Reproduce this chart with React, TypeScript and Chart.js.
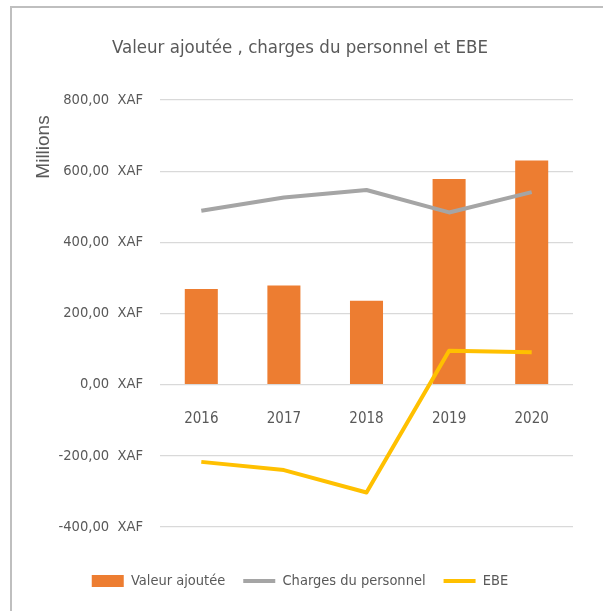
import React, { useEffect, useRef } from "react";
import { Chart, registerables } from "chart.js";

Chart.register(...registerables);

const categories = ["2016", "2017", "2018", "2019", "2020"];
const valeurAjoutee = [269, 279, 236, 578, 630];
const chargesPersonnel = [489, 526, 547, 484, 541];
const ebe = [-217, -240, -303, 95, 91];
const seriesNames = ["Valeur ajoutée", "Charges du personnel", "EBE"];
const seriesColors = ["#ED7D31", "#A5A5A5", "#FFC000"];
const yMin = -400;
const yMax = 800;
const yStep = 200;
const titleText = "Valeur ajoutée , charges du personnel et EBE";
const unitLabel = "Millions";
const currency = "XAF";

const NARROW = "'Liberation Sans Narrow', 'DejaVu Sans Condensed', 'Roboto Condensed', sans-serif";
const TEXT = "#595959";

const unitPlugin = {
  id: "unitLabel",
  afterDraw(chart: any) {
    const ctx = chart.ctx;
    ctx.save();
    ctx.translate(44, 147);
    ctx.rotate(-Math.PI / 2);
    ctx.font = "19px 'Liberation Sans', Arial, sans-serif";
    ctx.fillStyle = TEXT;
    ctx.textAlign = "center";
    ctx.textBaseline = "middle";
    ctx.fillText(unitLabel, 0, 0);
    ctx.restore();
  },
};

export default function App() {
  const ref = useRef<HTMLCanvasElement>(null);

  useEffect(() => {
    if (!ref.current) return;
    const chart = new Chart(ref.current, {
      type: "bar",
      data: {
        labels: categories,
        datasets: [
          {
            type: "bar",
            label: seriesNames[0],
            data: valeurAjoutee,
            backgroundColor: seriesColors[0],
            barPercentage: 0.4,
            categoryPercentage: 1,
            order: 3,
          },
          {
            type: "line",
            label: seriesNames[1],
            data: chargesPersonnel,
            borderColor: seriesColors[1],
            backgroundColor: seriesColors[1],
            borderWidth: 4,
            pointRadius: 0,
            tension: 0,
            borderJoinStyle: "round",
            order: 2,
          },
          {
            type: "line",
            label: seriesNames[2],
            data: ebe,
            borderColor: seriesColors[2],
            backgroundColor: seriesColors[2],
            borderWidth: 4,
            pointRadius: 0,
            tension: 0,
            borderJoinStyle: "round",
            order: 1,
          },
        ] as any,
      },
      options: {
        responsive: false,
        animation: false,
        events: [],
        layout: { padding: { left: 27, right: 30, top: 0, bottom: 12.75 } },
        plugins: {
          title: {
            display: true,
            text: titleText,
            color: TEXT,
            font: { family: NARROW, size: 18.5, weight: "normal" },
            padding: { top: 36.9, bottom: 40.9 },
          },
          legend: {
            display: true,
            position: "bottom",
            labels: {
              usePointStyle: true,
              pointStyleWidth: 32,
              boxHeight: 12,
              padding: 18,
              color: TEXT,
              font: { family: NARROW, size: 14.5 },
              generateLabels: (c: any) =>
                c.data.datasets.map((ds: any, i: number) => ({
                  text: ds.label,
                  datasetIndex: i,
                  fillStyle: seriesColors[i],
                  strokeStyle: seriesColors[i],
                  lineWidth: i === 0 ? 0 : 4,
                  pointStyle: i === 0 ? "rect" : "line",
                  fontColor: TEXT,
                  hidden: false,
                })),
            },
          },
          tooltip: { enabled: false },
        },
        scales: {
          x: {
            position: { y: 0 } as any,
            grid: { display: false },
            border: { display: false },
            ticks: {
              color: TEXT,
              font: { family: NARROW, size: 15 },
              padding: 17,
            },
          },
          gap: {
            type: "category",
            position: "bottom",
            display: true,
            grid: { display: false },
            border: { display: false },
            ticks: { display: false },
            afterFit: (s: any) => {
              s.height = 28.75;
            },
          } as any,
          y: {
            min: yMin,
            max: yMax,
            grid: { color: "#D9D9D9", lineWidth: 1.2, drawTicks: false },
            border: { display: false },
            ticks: {
              stepSize: yStep,
              color: TEXT,
              padding: 17,
              font: { family: NARROW, size: 14.6 },
              callback: (v: any) => Number(v).toFixed(2).replace(".", ",") + "  " + currency,
            },
            afterFit: (s: any) => {
              s.width = 133;
            },
          },
        },
      },
      plugins: [unitPlugin],
    });
    return () => chart.destroy();
  }, []);

  return (
    <div style={{ position: "fixed", left: 0, top: 0, width: 603, height: 611, overflow: "hidden", background: "#fff" }}>
      <div
        style={{
          position: "absolute",
          left: 10,
          top: 6,
          width: 593,
          height: 605,
          borderLeft: "2px solid #BFBFBF",
          borderTop: "2px solid #BFBFBF",
          boxSizing: "border-box",
        }}
      />
      <canvas ref={ref} width={603} height={611} style={{ position: "absolute", left: 0, top: 0 }} />
    </div>
  );
}
